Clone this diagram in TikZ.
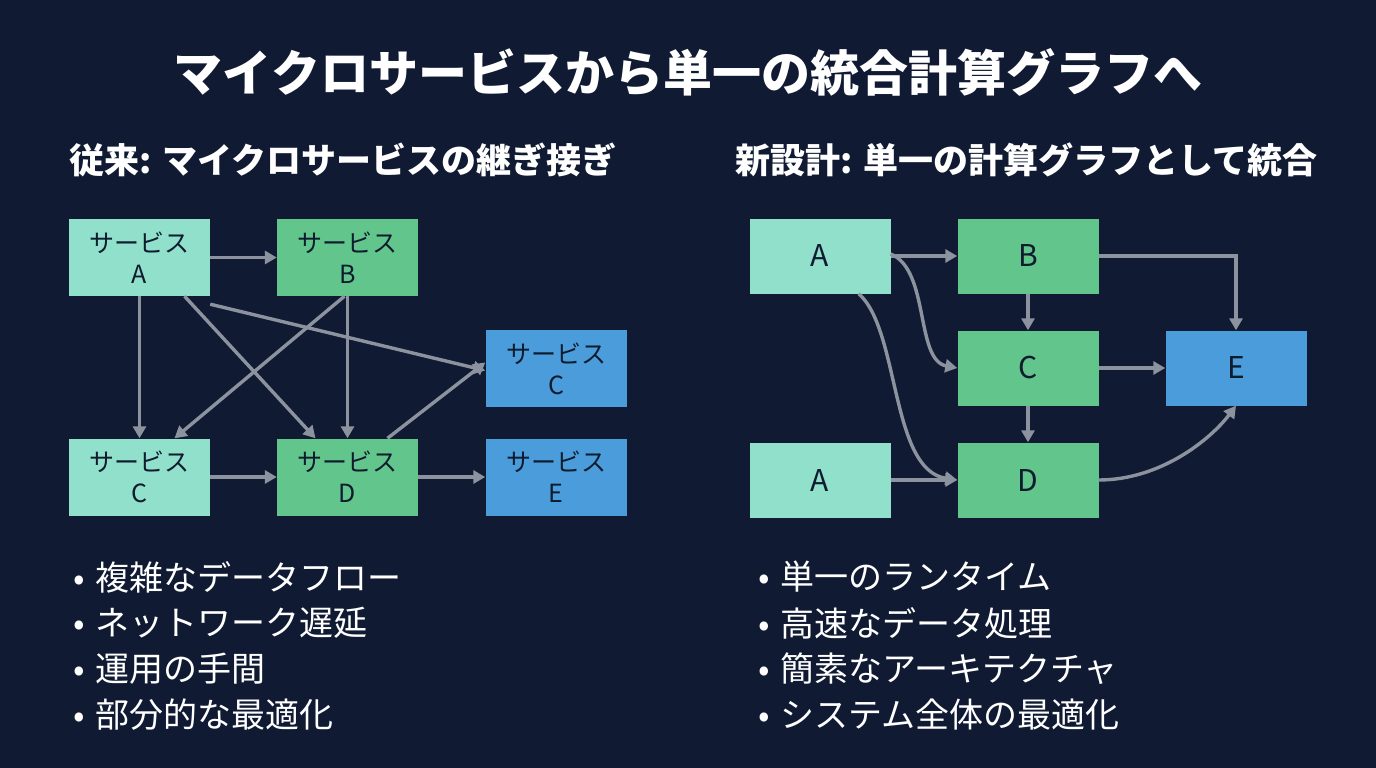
\documentclass[tikz,border=0pt]{standalone}
\usepackage{fontspec}
\setmainfont{Noto Sans CJK JP}
\usetikzlibrary{arrows.meta}
\definecolor{bgcol}{HTML}{101B33}
\definecolor{tealbox}{HTML}{90E0CB}
\definecolor{greenbox}{HTML}{62C68C}
\definecolor{bluebox}{HTML}{4A9DDA}
\definecolor{arrowgray}{HTML}{8C939E}
\definecolor{inkcol}{HTML}{0F1B2E}

\begin{document}
\begin{tikzpicture}[x=1pt,y=-1pt,
    box/.style={draw=none,minimum width=141pt,minimum height=77pt,inner sep=0pt,
      text=inkcol,font=\fontsize{25}{31}\selectfont,align=center},
    bigbox/.style={box,minimum height=75pt,font=\fontsize{30}{34}\selectfont},
    flow/.style={draw=arrowgray,line width=3.4pt,-{Triangle[length=12pt,width=13pt]}},
    heading/.style={text=white,font=\bfseries\fontsize{35}{40}\selectfont,anchor=west},
    item/.style={text=white,font=\fontsize{34}{38}\selectfont,anchor=west}]
    % background
    \fill[bgcol] (0,0) rectangle (1376,768);
    \node[text=white,font=\bfseries\fontsize{49}{55}\selectfont] (title) at (688,72) {マイクロサービスから単一の統合計算グラフへ};

    % left: microservices
    \node[heading] (lhead) at (66,160) {従来: マイクロサービスの継ぎ接ぎ};
    \node[box,fill=tealbox] (sA) at (139.5,257.5) {サービス\\A};
    \node[box,fill=greenbox] (sB) at (347.5,257.5) {サービス\\B};
    \node[box,fill=bluebox] (sCb) at (556,368.5) {サービス\\C};
    \node[box,fill=tealbox] (sC) at (139.5,477) {サービス\\C};
    \node[box,fill=greenbox] (sD) at (347.5,477) {サービス\\D};
    \node[box,fill=bluebox] (sE) at (556,477) {サービス\\E};
    \draw[flow] (sA.east) -- (sB.west);
    \draw[flow] (sA.south) -- (sC.north);
    \draw[flow] ([xshift=45]sA.south) -- ([xshift=-32]sD.north);
    \draw[flow] ([yshift=-8]sA.south east) -- ([yshift=-2]sCb.west);
    \draw[flow] ([xshift=-3]sB.south) -- ([xshift=35]sC.north);
    \draw[flow] (sB.south) -- (sD.north);
    \draw[flow] (sC.east) -- (sD.west);
    \draw[flow] ([xshift=40]sD.north) -- ([yshift=6]sCb.west);
    \draw[flow] (sD.east) -- (sE.west);

    % right: single graph
    \node[heading] (rhead) at (732,160) {新設計: 単一の計算グラフとして統合};
    \node[bigbox,fill=tealbox] (gA) at (820,256) {A};
    \node[bigbox,fill=greenbox] (gB) at (1028,256) {B};
    \node[bigbox,fill=greenbox] (gC) at (1028,368) {C};
    \node[bigbox,fill=bluebox] (gE) at (1236,368) {E};
    \node[bigbox,fill=tealbox] (gA2) at (820,480) {A};
    \node[bigbox,fill=greenbox] (gD) at (1028,480) {D};
    \draw[flow] (gA.east) -- (gB.west);
    \draw[flow] ([yshift=2]gA.east) .. controls (930,270) and (915,360) .. (gC.west);
    \draw[flow] ([xshift=-32]gA.south east) .. controls (900,330) and (890,470) .. (gD.west);
    \draw[flow] (gB.south) -- (gC.north);
    \draw[flow] (gC.south) -- (gD.north);
    \draw[flow] (gC.east) -- (gE.west);
    \draw[flow] (gB.east) -| (gE.north);
    \draw[flow] (gA2.east) -- (gD.west);
    \draw[flow] (gD.east) .. controls (1160,480) and (1210,440) .. (gE.south);

    % bullet lists
    \foreach \txt [count=\i] in {複雑なデータフロー,ネットワーク遅延,運用の手間,部分的な最適化}
      \node[item] (lb\i) at (70,531+46*\i) {•\hspace{10pt}\txt};
    \foreach \txt [count=\i] in {単一のランタイム,高速なデータ処理,簡素なアーキテクチャ,システム全体の最適化}
      \node[item] (rb\i) at (755,531+46*\i) {•\hspace{10pt}\txt};
\end{tikzpicture}
\end{document}
